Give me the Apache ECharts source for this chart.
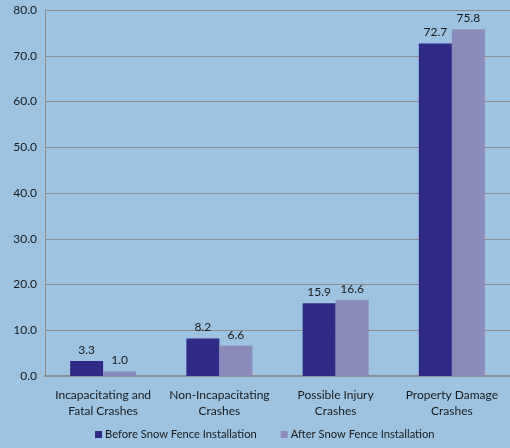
<!DOCTYPE html>
<html>
<head>
<meta charset="utf-8">
<script src="https://cdn.jsdelivr.net/npm/echarts@6/dist/echarts.min.js"></script>
<style>
  html, body { margin: 0; padding: 0; background: #9DC3E0; }
  #main { width: 510px; height: 448px; }
</style>
</head>
<body>
<div id="main"></div>
<script>
var categories = ['Incapacitating and\nFatal Crashes', 'Non-Incapacitating\nCrashes', 'Possible Injury\nCrashes', 'Property Damage\nCrashes'];
var beforeValues = [3.3, 8.2, 15.9, 72.7];
var afterValues = [1.0, 6.6, 16.6, 75.8];
var seriesNames = ['Before Snow Fence Installation', 'After Snow Fence Installation'];

var chart = echarts.init(document.getElementById('main'));
var font = 'Lato, "Open Sans", sans-serif';
var option = {
  backgroundColor: '#9DC3E0',
  textStyle: { fontFamily: font },
  grid: { left: 45, right: -4, top: 10, bottom: 72 },
  legend: {
    top: 429,
    left: 95,
    itemWidth: 7,
    itemHeight: 7,
    itemGap: 24,
    icon: 'rect',
    padding: 0,
    textStyle: { fontSize: 11.2, color: '#1a1a1a', fontFamily: font, padding: [0, 0, 0, -2] },
    data: seriesNames
  },
  xAxis: {
    type: 'category',
    data: categories,
    axisLine: { lineStyle: { color: '#8c8c8c', width: 2 } },
    axisTick: { show: false },
    axisLabel: { interval: 0, hideOverlap: false, fontSize: 12, color: '#1a1a1a', lineHeight: 16, margin: 11, fontFamily: font }
  },
  yAxis: {
    type: 'value',
    min: 0,
    max: 80,
    interval: 10,
    axisLine: { show: true, lineStyle: { color: '#8c8c8c' } },
    axisTick: { show: false },
    splitLine: { lineStyle: { color: '#8c8c8c', width: 1 } },
    axisLabel: {
      fontSize: 12, color: '#1a1a1a', margin: 8, fontFamily: font,
      formatter: function (v) { return v.toFixed(1); }
    }
  },
  series: [
    {
      name: seriesNames[0],
      type: 'bar',
      data: beforeValues,
      barWidth: 33,
      barGap: '0%',
      itemStyle: { color: '#2E2A86' },
      label: { show: true, position: 'top', color: '#1a1a1a', fontSize: 12, distance: 5, fontFamily: font,
        formatter: function (p) { return p.value.toFixed(1); } }
    },
    {
      name: seriesNames[1],
      type: 'bar',
      data: afterValues,
      barWidth: 33,
      itemStyle: { color: '#8A8BBB' },
      label: { show: true, position: 'top', color: '#1a1a1a', fontSize: 12, distance: 5, fontFamily: font,
        formatter: function (p) { return p.value.toFixed(1); } }
    }
  ]
};
chart.setOption(option);
</script>
</body>
</html>
